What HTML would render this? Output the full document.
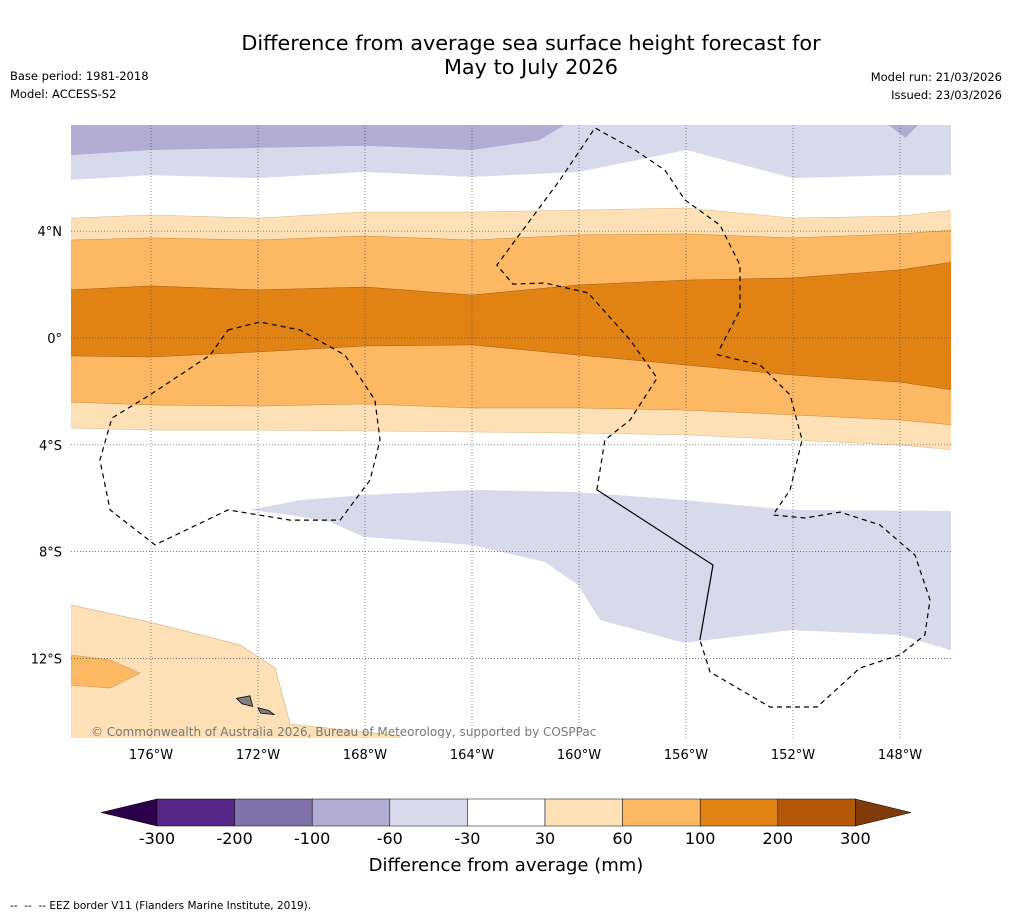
<!DOCTYPE html>
<html><head><meta charset="utf-8">
<style>
body{margin:0;background:#fff;}
#root{position:relative;width:1011px;height:919px;background:#fefefe;font-family:"DejaVu Sans","Liberation Sans",sans-serif;overflow:hidden;}
.t{position:absolute;color:#000;}
</style></head>
<body>
<div id="root">
<div class="t" style="left:0;width:1062px;top:31px;text-align:center;font-size:20.8px;line-height:24px;">Difference from average sea surface height forecast for<br>May to July 2026</div>
<div class="t" style="left:10px;top:69px;font-size:11.5px;">Base period: 1981-2018</div>
<div class="t" style="left:10px;top:87px;font-size:11.5px;">Model: ACCESS-S2</div>
<div class="t" style="right:9px;top:70px;font-size:11.5px;">Model run: 21/03/2026</div>
<div class="t" style="right:9px;top:88px;font-size:11.5px;">Issued: 23/03/2026</div>
<svg id="map" width="1011" height="919" style="position:absolute;left:0;top:0;" xmlns="http://www.w3.org/2000/svg"></svg>
<div class="t" style="left:10px;top:900px;font-size:10.5px;">--&nbsp; --&nbsp; -- EEZ border V11 (Flanders Marine Institute, 2019).</div>
</div>
<script>
// ---- data ----
const bandLons = [-179,-176,-172,-168,-164,-160,-156,-152,-148,-146];
const lav60N  = [5.92,6.10,5.99,6.22,6.03,6.22,7.04,5.99,6.10,6.10];
const c30N  = [4.49,4.61,4.49,4.72,4.72,4.79,4.87,4.49,4.57,4.79];
const c60N  = [3.67,3.75,3.67,3.82,3.67,3.86,3.90,3.75,3.90,4.04];
const c100N = [1.80,1.95,1.80,1.91,1.61,1.99,2.17,2.25,2.55,2.85];
const c100S = [-0.67,-0.71,-0.52,-0.30,-0.26,-0.64,-1.01,-1.39,-1.65,-1.95];
const c60S  = [-2.40,-2.51,-2.55,-2.47,-2.62,-2.62,-2.70,-2.88,-3.07,-3.26];
const c30S  = [-3.37,-3.45,-3.45,-3.48,-3.52,-3.56,-3.63,-3.82,-4.01,-4.19];
const purpleLons = [-179,-176,-172,-168,-164,-161.5,-160.5];
const purpleLats = [6.85,7.04,7.12,7.20,7.04,7.40,8.0];
const southLavLons = [-172.3,-170.43,-168.04,-164.04,-160.04,-156.07,-152.07,-146.09,-146.09,-148.07,-152.07,-156.07,-159.21,-160.04,-161.27,-164.04,-168.04,-169.31,-170.8];
const southLavLats = [-6.44,-6.07,-5.88,-5.69,-5.77,-6.07,-6.44,-6.48,-11.69,-11.12,-10.94,-11.42,-10.56,-9.25,-8.39,-7.75,-7.45,-6.89,-6.63];
const swLightLons = [-179,-176.04,-172.67,-171.36,-170.8,-166.69,-166.69,-179];
const swLightLats = [-10,-10.64,-11.5,-12.36,-14.46,-14.9,-15,-15];
const swDarkLons = [-179,-177.53,-176.41,-177.53,-179];
const swDarkLats = [-11.87,-12.06,-12.55,-13.11,-13];
const eezALons = [-173.12,-171.93,-170.43,-168.75,-167.63,-167.44,-167.81,-168.93,-170.8,-173.12,-175.85,-177.53,-177.91,-177.46,-176.04,-173.79,-173.12];
const eezALats = [0.30,0.60,0.30,-0.64,-2.32,-3.82,-5.32,-6.82,-6.82,-6.44,-7.75,-6.44,-4.57,-3.0,-2.13,-0.64,0.30];
const eezBLons = [-159.33,-159.03,-158.09,-157.08,-158.09,-159.66,-161.27,-162.47,-163.07,-160.71,-159.4,-157.91,-156.79,-156.04,-154.73,-153.98,-153.98,-154.8];
const eezBLats = [-5.69,-3.82,-3.07,-1.5,-0.07,1.69,2.06,2.02,2.73,5.92,7.87,7.04,6.29,5.17,4.23,2.73,1.05,-0.52];
const eezCLons = [-154.85,-153.23,-152.11,-151.66,-152.11,-152.75,-151.55,-150.24,-148.75,-147.44,-146.88,-147.07,-148.0,-149.5,-151.1,-152.86,-155.10,-155.48];
const eezCLats = [-0.62,-1.01,-2.13,-3.82,-5.69,-6.63,-6.74,-6.52,-7.0,-8.13,-9.81,-11.12,-11.87,-12.36,-13.82,-13.82,-12.51,-11.31];
const solidLons = [-159.33,-154.99,-155.48];
const solidLats = [-5.69,-8.50,-11.31];
const lonTicks = [-176,-172,-168,-164,-160,-156,-152,-148];
const latTicks = [4,0,-4,-8,-12];
const cbLabels = ['-300','-200','-100','-60','-30','30','60','100','200','300'];
const cbColors = ['#542788','#8073ac','#b2abd2','#d8daeb','#ffffff','#fee0b6','#fdb863','#e08214','#b35806'];

// ---- projection ----
const X0=71,X1=951,Y0=125,Y1=738;
function px(lon){return 151+(lon+176)*26.75;}
function py(lat){return 338-lat*26.7;}
const svg=document.getElementById('map');
const NS='http://www.w3.org/2000/svg';
function mk(tag,attrs){const e=document.createElementNS(NS,tag);for(const k in attrs)e.setAttribute(k,attrs[k]);svg.appendChild(e);return e;}
function pts(lons,lats){return lons.map((l,i)=>px(l).toFixed(1)+','+py(lats[i]).toFixed(1));}
function bandPoly(top,bot){
  const a=pts(bandLons,top);
  const b=pts(bandLons,bot).reverse();
  return a.concat(b).join(' ');
}

const defs=mk('defs',{});
const clip=document.createElementNS(NS,'clipPath');clip.setAttribute('id','mc');defs.appendChild(clip);
const cr=document.createElementNS(NS,'rect');cr.setAttribute('x',X0);cr.setAttribute('y',Y0);cr.setAttribute('width',X1-X0);cr.setAttribute('height',Y1-Y0);clip.appendChild(cr);
const g=mk('g',{'clip-path':'url(#mc)'});


function add(tag,attrs,name){const e=document.createElementNS(NS,tag);for(const k in attrs)e.setAttribute(k,attrs[k]);g.appendChild(e);return e;}

add('rect',{x:X0,y:Y0,width:X1-X0,height:Y1-Y0,fill:'#ffffff'},'map-background');
const topLat=9;
add('polygon',{points:bandPoly(bandLons.map(()=>topLat),lav60N),fill:'#d8daeb'},'band-minus60-minus30-north');
add('polygon',{points:pts(purpleLons,purpleLats).concat([px(-160.5)+','+py(9),px(-179)+','+py(9)]).join(' '),fill:'#b2abd2'},'band-minus100-minus60-north');
add('polygon',{points:[px(-148.6)+','+py(8.1),px(-147.8)+','+py(7.5),px(-147.2)+','+py(8.1)].join(' '),fill:'#b2abd2'},'band-minus100-minus60-ne');
add('polygon',{points:bandPoly(c30N,c30S),fill:'#fee0b6',stroke:'#d9b88a','stroke-width':0.5},'band-30-60');
add('polygon',{points:bandPoly(c60N,c60S),fill:'#fdb863',stroke:'#c98a3a','stroke-width':0.5},'band-60-100');
add('polygon',{points:bandPoly(c100N,c100S),fill:'#e08214',stroke:'#a55c10','stroke-width':0.5},'band-100-200');
add('polygon',{points:pts(southLavLons,southLavLats).join(' '),fill:'#d8daeb'},'band-minus60-minus30-south');
add('polygon',{points:pts(swLightLons,swLightLats).join(' '),fill:'#fee0b6',stroke:'#d9b88a','stroke-width':0.7},'band-30-60-southwest');
add('polygon',{points:pts(swDarkLons,swDarkLats).join(' '),fill:'#fdb863',stroke:'#d9a060','stroke-width':0.7},'band-60-100-southwest');

lonTicks.forEach(l=>{add('line',{x1:px(l),x2:px(l),y1:Y0,y2:Y1,stroke:'#555','stroke-width':0.7,'stroke-dasharray':'1,2'},'lon-gridline');});
latTicks.forEach(l=>{add('line',{x1:X0,x2:X1,y1:py(l),y2:py(l),stroke:'#555','stroke-width':0.7,'stroke-dasharray':'1,2'},'lat-gridline');});

add('polygon',{points:[px(-172.8)+','+py(-13.5),px(-172.3)+','+py(-13.4),px(-172.2)+','+py(-13.8),px(-172.6)+','+py(-13.7)].join(' '),fill:'#808080',stroke:'#000','stroke-width':0.8},'island-savaii');
add('polygon',{points:[px(-172.0)+','+py(-13.85),px(-171.6)+','+py(-13.95),px(-171.4)+','+py(-14.1),px(-171.9)+','+py(-14.05)].join(' '),fill:'#808080',stroke:'#000','stroke-width':0.8},'island-upolu');

add('polyline',{points:pts(eezALons,eezALats).join(' '),fill:'none',stroke:'#000','stroke-width':1.2,'stroke-dasharray':'5,4'},'eez-tokelau');
add('polyline',{points:pts(eezBLons,eezBLats).join(' '),fill:'none',stroke:'#000','stroke-width':1.2,'stroke-dasharray':'5,4'},'eez-phoenix');
add('polyline',{points:pts(eezCLons,eezCLats).join(' '),fill:'none',stroke:'#000','stroke-width':1.2,'stroke-dasharray':'5,4'},'eez-line-islands');
add('polyline',{points:pts(solidLons,solidLats).join(' '),fill:'none',stroke:'#000','stroke-width':1.2},'eez-shared-border');

const cp=add('text',{x:91,y:736,'font-size':12,fill:'#777','font-family':'DejaVu Sans, Liberation Sans, sans-serif'},'copyright-note');
cp.textContent='© Commonwealth of Australia 2026, Bureau of Meteorology, supported by COSPPac';

lonTicks.forEach(l=>{
  const t=mk('text',{x:px(l),y:759,'font-size':13,'text-anchor':'middle','font-family':'DejaVu Sans, Liberation Sans, sans-serif'});
  
  
  t.textContent=Math.abs(l)+'°W';
});
latTicks.forEach(l=>{
  const t=mk('text',{x:62,y:py(l)+5,'font-size':13,'text-anchor':'end','font-family':'DejaVu Sans, Liberation Sans, sans-serif'});
  
  
  t.textContent=l===0?'0°':Math.abs(l)+'°'+(l>0?'N':'S');
});

const cbX0=157,cbW=77.6,cbY=799,cbH=27;
const lo=mk('polygon',{points:`101,${cbY+cbH/2} ${cbX0},${cbY} ${cbX0},${cbY+cbH}`,fill:'#2d004b',stroke:'#000','stroke-width':0.5});


cbColors.forEach((c,i)=>{
  const r=mk('rect',{x:cbX0+i*cbW,y:cbY,width:cbW,height:cbH,fill:c,stroke:'#000','stroke-width':0.5});
  
  
});
const hiX=cbX0+cbColors.length*cbW;
const hi=mk('polygon',{points:`${hiX},${cbY} 911,${cbY+cbH/2} ${hiX},${cbY+cbH}`,fill:'#7f3b08',stroke:'#000','stroke-width':0.5});


cbLabels.forEach((s,i)=>{
  const t=mk('text',{x:cbX0+i*cbW,y:844,'font-size':16,'text-anchor':'middle','font-family':'DejaVu Sans, Liberation Sans, sans-serif'});
  
  
  t.textContent=s;
});
const ct=mk('text',{x:506,y:871,'font-size':18,'text-anchor':'middle','font-family':'DejaVu Sans, Liberation Sans, sans-serif'});


ct.textContent='Difference from average (mm)';
</script>
</body></html>
